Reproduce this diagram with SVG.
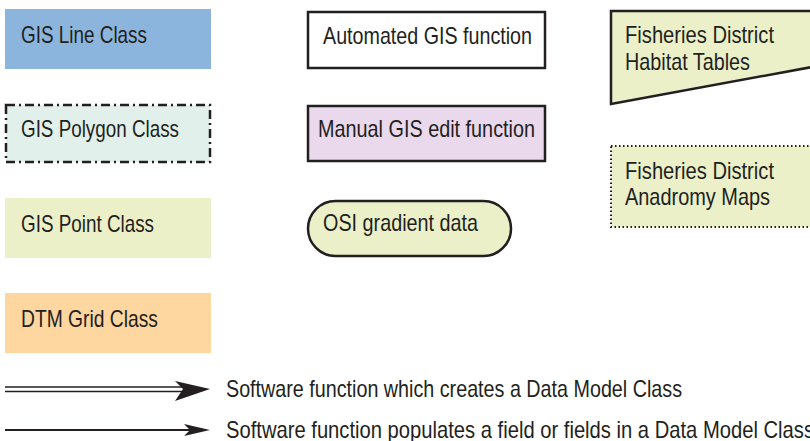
<svg xmlns="http://www.w3.org/2000/svg" width="810" height="441" viewBox="0 0 810 441">
<style>
text{font-family:"Liberation Sans",Arial,sans-serif;font-size:24px;fill:#231f20}
.b{stroke:#231f20;stroke-width:2.5}
</style>
<rect width="810" height="441" fill="#fff"/>
<g id="gis-line"><rect x="5" y="9" width="206" height="60" fill="#8bb5dd"/><text x="21" y="43" textLength="126" lengthAdjust="spacingAndGlyphs">GIS Line Class</text></g>
<g id="gis-polygon"><rect x="6" y="105" width="204" height="57" fill="#e2f0ec" class="b" stroke-dasharray="9,4,2,4"/><text x="21" y="137" textLength="158" lengthAdjust="spacingAndGlyphs">GIS Polygon Class</text></g>
<g id="gis-point"><rect x="5" y="198" width="206" height="60" fill="#ebf0c9"/><text x="21" y="232" textLength="133" lengthAdjust="spacingAndGlyphs">GIS Point Class</text></g>
<g id="dtm-grid"><rect x="5" y="293" width="206" height="60" fill="#fdd6a0"/><text x="21" y="327" textLength="137" lengthAdjust="spacingAndGlyphs">DTM Grid Class</text></g>
<g id="automated"><rect x="308" y="12" width="237" height="56" fill="#fff" class="b"/><text x="323" y="44" textLength="209" lengthAdjust="spacingAndGlyphs">Automated GIS function</text></g>
<g id="manual"><rect x="308" y="106" width="237" height="55" fill="#ead8ec" class="b"/><text x="318" y="137" textLength="217" lengthAdjust="spacingAndGlyphs">Manual GIS edit function</text></g>
<g id="osi"><rect x="308" y="201" width="203" height="55" rx="27.5" fill="#ebf0c9" class="b"/><text x="323" y="231" textLength="155" lengthAdjust="spacingAndGlyphs">OSI gradient data</text></g>
<g id="habitat"><path d="M611,11 H812 V67 L611,104 Z" fill="#ebf0c9" class="b"/><text x="625" y="43" textLength="149" lengthAdjust="spacingAndGlyphs">Fisheries District</text><text x="625" y="70" textLength="125" lengthAdjust="spacingAndGlyphs">Habitat Tables</text></g>
<g id="anadromy"><rect x="611" y="146" width="202" height="81" fill="#ebf0c9" stroke="#231f20" stroke-width="2" stroke-dasharray="1.5,2.5"/><text x="625" y="179" textLength="149" lengthAdjust="spacingAndGlyphs">Fisheries District</text><text x="625" y="205" textLength="145" lengthAdjust="spacingAndGlyphs">Anadromy Maps</text></g>
<g id="connectors">
<line x1="5" y1="387" x2="185" y2="387" stroke="#231f20" stroke-width="1.5"/>
<line x1="5" y1="391.5" x2="185" y2="391.5" stroke="#231f20" stroke-width="1.5"/>
<path d="M210,389 L175,381 L183,389 L175,401 Z" fill="#231f20"/>
<line x1="5" y1="430" x2="190" y2="430" stroke="#231f20" stroke-width="2"/>
<path d="M210,430 L184,424 L190,430 L184,436 Z" fill="#231f20"/>
</g>
<text x="226" y="397" textLength="456" lengthAdjust="spacingAndGlyphs">Software function which creates a Data Model Class</text>
<text x="226" y="438" textLength="588" lengthAdjust="spacingAndGlyphs">Software function populates a field or fields in a Data Model Class</text>
</svg>
